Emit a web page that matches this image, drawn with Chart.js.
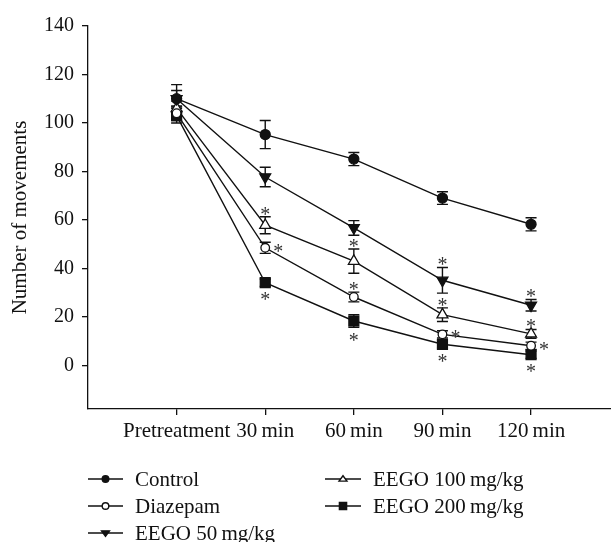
<!DOCTYPE html>
<html>
<head>
<meta charset="utf-8">
<script src="https://cdn.jsdelivr.net/npm/chart.js@4.4.1/dist/chart.umd.min.js"></script>
<style>
    html, body { margin: 0; padding: 0; background: #fff; overflow: hidden; }
    /* the x axis in the figure runs past the right edge, so the canvas is a bit wider than the window */
    #wrap { width: 620px; height: 542px; position: relative; }
</style>
</head>
<body>
<div id="wrap"><canvas id="chart"></canvas></div>
<script>
// Time points (x axis); the figure sets number and unit with a thin space
const timeLabels = ['Pretreatment', '30\u2009min', '60\u2009min', '90\u2009min', '120\u2009min'];
const yTicks = [0, 20, 40, 60, 80, 100, 120, 140];

// Group means and SEM
const controlMean = [110, 95.2, 85.1, 69, 58.2];
const controlErr = [5.8, 5.8, 2.7, 2.6, 2.7];
const diazepamMean = [104, 48.5, 28.2, 12.8, 8.1];
const diazepamErr = [3, 2.3, 2, 1.5, 1.5];
const eego50Mean = [110, 77.7, 56.7, 35.1, 24.8];
const eego50Err = [3.4, 4, 3, 5.3, 2.4];
const eego100Mean = [106, 57.8, 43, 20.9, 13];
const eego100Err = [3, 3.5, 5, 2.8, 1.8];
const eego200Mean = [103, 34.1, 18.3, 8.7, 4.4];
const eego200Err = [3, 1.5, 2.6, 1.5, 1.5];

// Where the significance asterisk sits for each point
const controlSig = [null, null, null, null, null];
const diazepamSig = [null, 'right', 'above', 'right', 'right'];
const eego50Sig = [null, null, null, 'above', 'above'];
const eego100Sig = [null, 'above', 'above', 'above', 'above'];
const eego200Sig = [null, 'below', 'below', 'below', 'below'];

const SERIF = '"Liberation Serif", "Times New Roman", serif';
const INK = '#111';

function makeSeries(label, means, errs, sig, style) {
    return Object.assign({
        label: label,
        data: means.map((v, i) => ({ x: i + 1, y: v })),
        errors: errs,
        sig: sig,
        borderColor: INK,
        borderWidth: 1.4,
        pointBorderColor: INK,
        pointBorderWidth: 1.3,
        tension: 0,
        fill: false
    }, style);
}

const datasets = [
    makeSeries('Control', controlMean, controlErr, controlSig,
        { pointStyle: 'circle', pointRadius: 5, pointBackgroundColor: INK }),
    makeSeries('Diazepam', diazepamMean, diazepamErr, diazepamSig,
        { pointStyle: 'circle', pointRadius: 4.3, pointBackgroundColor: '#fff' }),
    makeSeries('EEGO 50\u2009mg/kg', eego50Mean, eego50Err, eego50Sig,
        { pointStyle: 'triangle', pointRadius: 6.3, pointRotation: 180, pointBackgroundColor: INK }),
    makeSeries('EEGO 100\u2009mg/kg', eego100Mean, eego100Err, eego100Sig,
        { pointStyle: 'triangle', pointRadius: 6.3, pointBackgroundColor: '#fff' }),
    makeSeries('EEGO 200\u2009mg/kg', eego200Mean, eego200Err, eego200Sig,
        { pointStyle: 'rect', pointRadius: 7, pointBackgroundColor: INK })
];

/**
 * Error bars (mean +/- SEM) with caps, drawn under the markers
 */
const errorBars = {
    id: 'errorBars',
    beforeDatasetsDraw(chart) {
        const ctx = chart.ctx;
        const xs = chart.scales.x, ys = chart.scales.y;
        ctx.save();
        ctx.strokeStyle = INK;
        ctx.lineWidth = 1.4;
        chart.data.datasets.forEach(ds => {
            ds.data.forEach((p, i) => {
                const x = xs.getPixelForValue(p.x);
                const top = ys.getPixelForValue(p.y + ds.errors[i]);
                const bot = ys.getPixelForValue(p.y - ds.errors[i]);
                ctx.beginPath();
                ctx.moveTo(x, top); ctx.lineTo(x, bot);
                ctx.moveTo(x - 5.5, top); ctx.lineTo(x + 5.5, top);
                ctx.moveTo(x - 5.5, bot); ctx.lineTo(x + 5.5, bot);
                ctx.stroke();
            });
        });
        ctx.restore();
    },
    afterDatasetsDraw(chart) {
        // significance asterisks
        const ctx = chart.ctx;
        const xs = chart.scales.x, ys = chart.scales.y;
        ctx.save();
        ctx.fillStyle = '#333';
        ctx.font = '20px ' + SERIF;
        ctx.textAlign = 'center';
        ctx.textBaseline = 'alphabetic';
        chart.data.datasets.forEach(ds => {
            ds.data.forEach((p, i) => {
                const where = ds.sig[i];
                if (!where) return;
                let x = xs.getPixelForValue(p.x);
                let y;
                if (where === 'above') {
                    y = ys.getPixelForValue(p.y + ds.errors[i]) - 6;
                } else if (where === 'below') {
                    y = ys.getPixelForValue(p.y - ds.errors[i]) + 10;
                } else {
                    x += 13;
                    y = ys.getPixelForValue(p.y);
                }
                // glyph centre sits about half an em above the baseline
                ctx.fillText('*', x, y + 10);
            });
        });
        ctx.restore();
    }
};

/**
 * Two-column legend under the axis
 */
function drawMarker(ctx, ds, x, y, r) {
    ctx.beginPath();
    if (ds.pointStyle === 'circle') {
        ctx.arc(x, y, r, 0, Math.PI * 2);
    } else if (ds.pointStyle === 'rect') {
        ctx.rect(x - r, y - r, 2 * r, 2 * r);
    } else {
        const dir = ds.pointRotation === 180 ? 1 : -1;
        const h = r * 1.5;
        ctx.moveTo(x, y + dir * h * 0.6);
        ctx.lineTo(x - r * 1.1, y - dir * h * 0.4);
        ctx.lineTo(x + r * 1.1, y - dir * h * 0.4);
        ctx.closePath();
    }
    ctx.fillStyle = ds.pointBackgroundColor;
    ctx.fill();
    ctx.stroke();
}

const sideLegend = {
    id: 'sideLegend',
    afterDraw(chart) {
        const ctx = chart.ctx;
        const cols = [{ x0: 88, x1: 123, tx: 135 }, { x0: 325, x1: 361, tx: 373 }];
        ctx.save();
        ctx.strokeStyle = INK;
        ctx.lineWidth = 1.4;
        ctx.font = '21px ' + SERIF;
        ctx.textBaseline = 'middle';
        chart.data.datasets.forEach((ds, i) => {
            const c = cols[i < 3 ? 0 : 1];
            const y = 479 + (i % 3) * 27;
            ctx.beginPath();
            ctx.moveTo(c.x0, y); ctx.lineTo(c.x1, y);
            ctx.stroke();
            drawMarker(ctx, ds, (c.x0 + c.x1) / 2, y, ds.pointStyle === 'circle' ? 3.3 : 3.6);
            ctx.fillStyle = INK;
            ctx.fillText(ds.label, c.tx, y + 1);
        });
        ctx.restore();
    }
};

new Chart(document.getElementById('chart'), {
    type: 'line',
    data: { datasets: datasets },
    options: {
        responsive: true,
        maintainAspectRatio: false,
        animation: false,
        layout: { padding: { top: 26, right: 0, left: 0, bottom: 0 } },
        plugins: {
            legend: { display: false },
            tooltip: { enabled: false }
        },
        scales: {
            x: {
                type: 'linear',
                min: 0,
                max: 5.91,
                afterBuildTicks: axis => { axis.ticks = timeLabels.map((t, i) => ({ value: i + 1 })); },
                afterFit: axis => { axis.height = 133; },
                grid: { drawOnChartArea: false, drawTicks: true, tickLength: 6, color: INK, lineWidth: 1.3 },
                border: { display: true, color: INK, width: 1.3 },
                ticks: {
                    autoSkip: false,
                    maxRotation: 0,
                    padding: 4,
                    color: INK,
                    font: { family: SERIF, size: 21 },
                    callback: v => timeLabels[v - 1]
                }
            },
            y: {
                min: -18,
                max: 140,
                afterBuildTicks: axis => { axis.ticks = yTicks.map(v => ({ value: v })); },
                afterFit: axis => { axis.width = 88; },
                grid: { drawOnChartArea: false, drawTicks: true, tickLength: 6, color: INK, lineWidth: 1.3 },
                border: { display: true, color: INK, width: 1.3 },
                ticks: {
                    padding: 8,
                    color: INK,
                    font: { family: SERIF, size: 20 }
                },
                title: {
                    display: true,
                    text: 'Number of movements',
                    color: INK,
                    font: { family: SERIF, size: 21 },
                    padding: { top: 8, bottom: 0 }
                }
            }
        }
    },
    plugins: [errorBars, sideLegend]
});
</script>
</body>
</html>
